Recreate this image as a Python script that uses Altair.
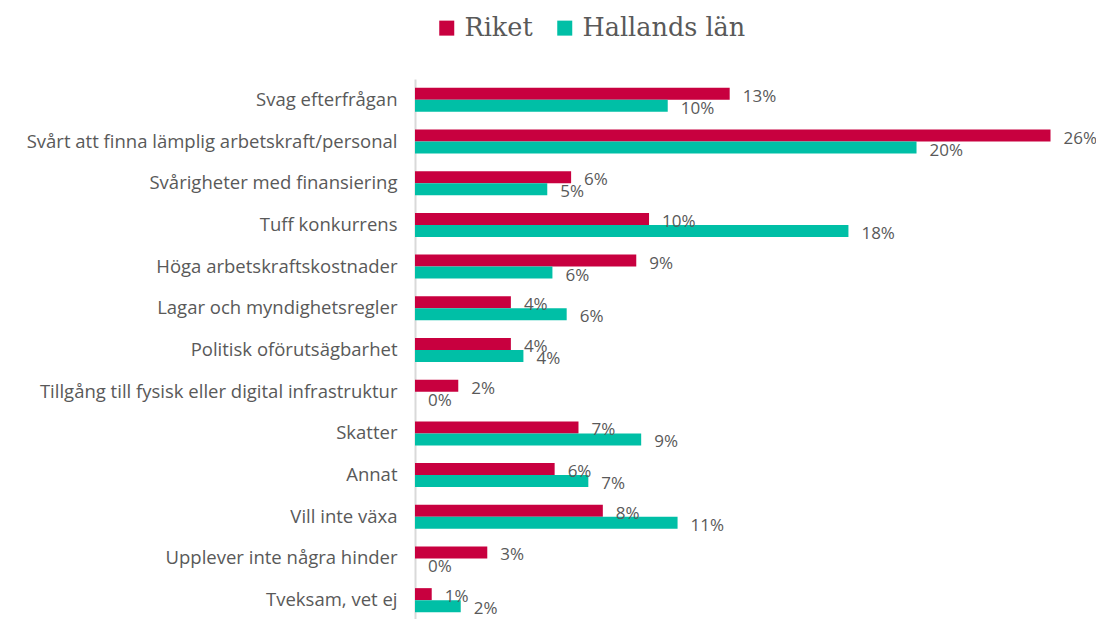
import altair as alt
import pandas as pd

categories = [
    "Svag efterfrågan",
    "Svårt att finna lämplig arbetskraft/personal",
    "Svårigheter med finansiering",
    "Tuff konkurrens",
    "Höga arbetskraftskostnader",
    "Lagar och myndighetsregler",
    "Politisk oförutsägbarhet",
    "Tillgång till fysisk eller digital infrastruktur",
    "Skatter",
    "Annat",
    "Vill inte växa",
    "Upplever inte några hinder",
    "Tveksam, vet ej",
]
riket = [12.8, 25.85, 6.35, 9.52, 9.0, 3.9, 3.9, 1.76, 6.65, 5.68, 7.64, 2.94, 0.68]
hallands = [10.28, 20.4, 5.38, 17.63, 5.59, 6.17, 4.41, 0.0, 9.2, 7.05, 10.68, 0.0, 1.86]
series = ["Riket", "Hallands län"]
colors = ["#C8003F", "#00BFA6"]

rows = []
for c, r, h in zip(categories, riket, hallands):
    rows.append({"category": c, "series": series[0], "value": r})
    rows.append({"category": c, "series": series[1], "value": h})
df = pd.DataFrame(rows)

y = alt.Y(
    "category:N",
    sort=categories,
    scale=alt.Scale(domain=categories, paddingInner=0.424, paddingOuter=0.212),
    axis=alt.Axis(
        title=None,
        ticks=False,
        labelFont="Open Sans",
        labelFontSize=18.5,
        labelColor="#595959",
        labelPadding=18,
        labelLimit=0,
        domainColor="#D9D9D9",
        domainWidth=2,
        grid=False,
    ),
)
yoff = alt.YOffset(
    "series:N",
    sort=series,
    scale=alt.Scale(domain=series, paddingInner=0, paddingOuter=0),
)
x = alt.X("value:Q", scale=alt.Scale(domain=[0, 27.7]), axis=None)

bars = alt.Chart(df).mark_bar().encode(
    x=x,
    y=y,
    yOffset=yoff,
    color=alt.Color(
        "series:N",
        sort=series,
        scale=alt.Scale(domain=series, range=colors),
        legend=alt.Legend(
            title=None,
            orient="none",
            legendX=19,
            legendY=-64,
            direction="horizontal",
            symbolType="square",
            symbolSize=225,
            symbolStrokeWidth=0,
            symbolOpacity=1,
            labelFont="DejaVu Serif",
            labelFontSize=25.5,
            labelColor="#595959",
            labelOffset=5,
            labelLimit=400,
            columnPadding=19,
            padding=0,
        ),
    ),
)

labels = alt.Chart(df).transform_calculate(
    label="format(datum.value, '.0f') + '%'"
).mark_text(
    align="left", baseline="middle", dx=13, dy=3,
    font="Open Sans", fontSize=17, color="#595959"
).encode(
    x=x,
    y=y,
    yOffset=yoff,
    text="label:N",
)

chart = (
    alt.layer(bars, labels)
    .properties(
        width=681,
        height=542,
        autosize=alt.AutoSizeParams(type="none"),
        padding={"left": 407, "top": 71, "right": 0, "bottom": -2},
    )
    .configure_view(strokeWidth=0)
)

chart.save("out.html", embed_options={"renderer": "svg", "actions": False})
